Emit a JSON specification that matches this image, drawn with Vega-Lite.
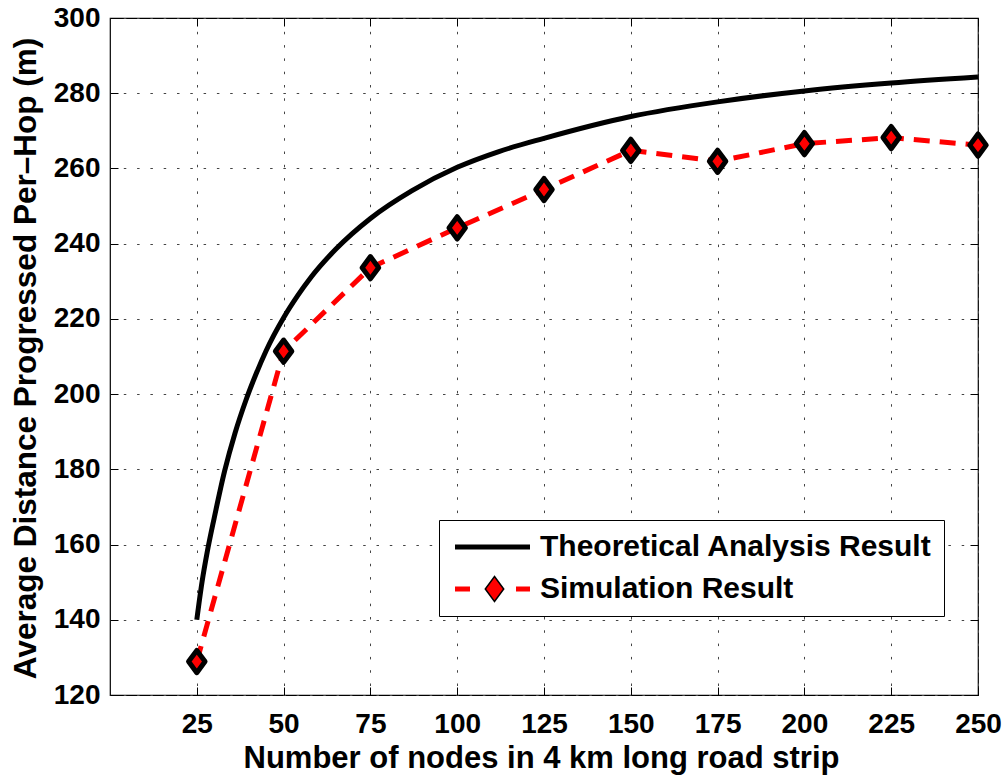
{
  "$schema": "https://vega.github.io/schema/vega-lite/v6.json",
  "width": 868,
  "height": 677,
  "autosize": {"type": "none"},
  "padding": {"left": 110, "top": 18, "right": 28, "bottom": 80},
  "background": "white",
  "data": {
    "values": [
      {"series": "Theoretical Analysis Result", "n": 25, "v": 140},
      {"series": "Theoretical Analysis Result", "n": 26.5, "v": 150},
      {"series": "Theoretical Analysis Result", "n": 28, "v": 158},
      {"series": "Theoretical Analysis Result", "n": 30, "v": 167},
      {"series": "Theoretical Analysis Result", "n": 33, "v": 179.5},
      {"series": "Theoretical Analysis Result", "n": 36, "v": 189.6},
      {"series": "Theoretical Analysis Result", "n": 39.2, "v": 198.5},
      {"series": "Theoretical Analysis Result", "n": 42, "v": 205.2},
      {"series": "Theoretical Analysis Result", "n": 45, "v": 211.6},
      {"series": "Theoretical Analysis Result", "n": 50, "v": 220.3},
      {"series": "Theoretical Analysis Result", "n": 54, "v": 226.1},
      {"series": "Theoretical Analysis Result", "n": 58, "v": 231.2},
      {"series": "Theoretical Analysis Result", "n": 65, "v": 238.5},
      {"series": "Theoretical Analysis Result", "n": 75, "v": 246.7},
      {"series": "Theoretical Analysis Result", "n": 87, "v": 254.1},
      {"series": "Theoretical Analysis Result", "n": 100, "v": 260.3},
      {"series": "Theoretical Analysis Result", "n": 112, "v": 264.5},
      {"series": "Theoretical Analysis Result", "n": 125, "v": 268},
      {"series": "Theoretical Analysis Result", "n": 150, "v": 273.8},
      {"series": "Theoretical Analysis Result", "n": 175, "v": 277.7},
      {"series": "Theoretical Analysis Result", "n": 200, "v": 280.6},
      {"series": "Theoretical Analysis Result", "n": 225, "v": 282.7},
      {"series": "Theoretical Analysis Result", "n": 250, "v": 284.3},
      {"series": "Simulation Result", "n": 25, "v": 128.9},
      {"series": "Simulation Result", "n": 50, "v": 211.4},
      {"series": "Simulation Result", "n": 75, "v": 233.6},
      {"series": "Simulation Result", "n": 100, "v": 244.2},
      {"series": "Simulation Result", "n": 125, "v": 254.4},
      {"series": "Simulation Result", "n": 150, "v": 264.8},
      {"series": "Simulation Result", "n": 175, "v": 261.9},
      {"series": "Simulation Result", "n": 200, "v": 266.6},
      {"series": "Simulation Result", "n": 225, "v": 268.2},
      {"series": "Simulation Result", "n": 250, "v": 266.2}
    ]
  },
  "layer": [
    {
      "transform": [{"filter": "datum.series === 'Theoretical Analysis Result'"}],
      "mark": {"type": "line", "strokeWidth": 5, "interpolate": "monotone", "strokeCap": "butt"},
      "encoding": {
        "x": {
          "field": "n", "type": "quantitative",
          "scale": {"domain": [0, 250], "nice": false, "zero": false},
          "axis": {
            "orient": "bottom",
            "values": [25, 50, 75, 100, 125, 150, 175, 200, 225, 250],
            "grid": true,
            "title": "Number of nodes in 4 km long road strip",
            "titleFontSize": 31,
            "titleX": 431,
            "titleY": 72,
            "titleBaseline": "alphabetic",
            "labelPadding": 23,
            "labelFlush": false,
            "labelOverlap": false
          }
        },
        "y": {
          "field": "v", "type": "quantitative",
          "scale": {"domain": [120, 300], "nice": false, "zero": false},
          "axis": {
            "orient": "left",
            "values": [120, 140, 160, 180, 200, 220, 240, 260, 280, 300],
            "grid": true,
            "title": "Average Distance Progressed Per–Hop (m)",
            "titleFontSize": 31.5,
            "titleAngle": 270,
            "titleX": -75,
            "titleY": 340,
            "titleBaseline": "alphabetic",
            "labelPadding": 18,
            "labelFlush": false,
            "labelOverlap": false
          }
        },
        "color": {
          "field": "series", "type": "nominal",
          "scale": {"domain": ["Theoretical Analysis Result", "Simulation Result"], "range": ["black", "red"]},
          "legend": {
            "orient": "none",
            "legendX": 329,
            "legendY": 502,
            "title": null,
            "strokeColor": "black",
            "fillColor": "white",
            "padding": 12,
            "symbolType": "M-5,0L5,0",
            "symbolSize": 225,
            "symbolStrokeWidth": 5,
            "labelFont": "Liberation Sans",
            "labelFontSize": 30,
            "labelFontWeight": "bold",
            "labelColor": "black",
            "labelLimit": 1000,
            "labelOffset": 59,
            "rowPadding": 12,
            "encode": {
              "symbols": {
                "update": {
                  "x": {"value": 41.5},
                  "strokeDash": {"signal": "datum.value === 'Simulation Result' ? [15, 46] : [100, 0]"},
                  "strokeWidth": {"value": 5}
                }
              }
            }
          }
        }
      }
    },
    {
      "transform": [{"filter": "datum.series === 'Simulation Result'"}],
      "mark": {"type": "line", "strokeWidth": 5, "strokeDash": [16, 10], "strokeCap": "butt"},
      "encoding": {
        "x": {"field": "n", "type": "quantitative", "axis": null},
        "y": {"field": "v", "type": "quantitative", "axis": null},
        "color": {"field": "series", "type": "nominal"}
      }
    },
    {
      "transform": [{"filter": "datum.series === 'Simulation Result'"}],
      "mark": {"type": "point", "filled": true, "fill": "red", "stroke": "black", "strokeWidth": 5, "size": 272, "strokeJoin": "round", "opacity": 1},
      "encoding": {
        "x": {
          "field": "n", "type": "quantitative",
          "axis": {"orient": "top", "values": [25, 50, 75, 100, 125, 150, 175, 200, 225, 250], "labels": false, "grid": false, "title": null, "domain": false}
        },
        "y": {
          "field": "v", "type": "quantitative",
          "axis": {"orient": "right", "values": [120, 140, 160, 180, 200, 220, 240, 260, 280, 300], "labels": false, "grid": false, "title": null, "domain": false}
        },
        "shape": {
          "field": "series", "type": "nominal",
          "scale": {"domain": ["Simulation Result"], "range": ["M0,-1.35L1,0L0,1.35L-1,0Z"]},
          "legend": {
            "orient": "none",
            "legendX": 369.5,
            "legendY": 556,
            "title": null,
            "padding": 0,
            "symbolSize": 340,
            "labelExpr": "''",
            "labelFontSize": 30,
            "encode": {
              "symbols": {
                "update": {
                  "fill": {"value": "red"},
                  "stroke": {"value": "black"},
                  "strokeWidth": {"value": 5},
                  "strokeJoin": {"value": "round"},
                  "opacity": {"value": 1}
                }
              }
            }
          }
        }
      }
    }
  ],
  "resolve": {"axis": {"x": "independent", "y": "independent"}},
  "config": {
    "font": "Liberation Sans",
    "view": {"stroke": "black", "strokeWidth": 1.2},
    "axis": {
      "labelFont": "Liberation Sans",
      "labelFontSize": 28,
      "labelFontWeight": "bold",
      "labelColor": "black",
      "titleFont": "Liberation Sans",
      "titleFontWeight": "bold",
      "titleColor": "black",
      "tickColor": "black",
      "tickSize": -8,
      "tickWidth": 1,
      "domain": false,
      "gridColor": "#444",
      "gridDash": [2.5, 10.8],
      "gridWidth": 1
    }
  }
}
